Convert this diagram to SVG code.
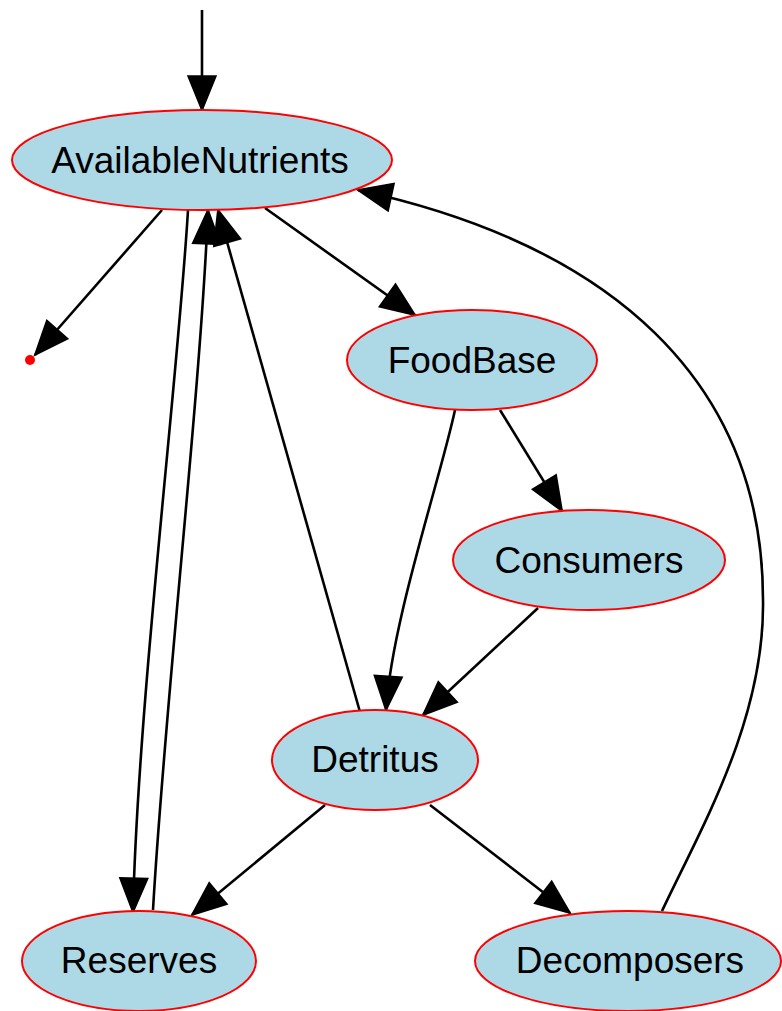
<svg xmlns="http://www.w3.org/2000/svg" width="782" height="1011" viewBox="0 0 782 1011">
<style>
.node ellipse{fill:#add8e6;stroke:#ff0000;stroke-width:2}
.node text{font-family:"Liberation Sans",Arial,sans-serif;font-size:37px;fill:#000;text-anchor:middle}
.edges path{fill:none;stroke:#000;stroke-width:2.6}
</style>
<defs>
<marker id="arr" markerUnits="userSpaceOnUse" markerWidth="40" markerHeight="40" viewBox="-2 -2 32 26" refX="27" refY="11" orient="auto">
<path d="M0,0 L27,11 L0,22 Z" fill="#000" stroke="#000" stroke-width="1.5"/>
</marker>
</defs>
<g id="edges" class="edges">
<path marker-end="url(#arr)" d="M202,10 L202,110"/>
<path marker-end="url(#arr)" d="M162,210 L35,355"/>
<path marker-end="url(#arr)" d="M265,208 L415,315"/>
<path marker-end="url(#arr)" d="M188,210 C178,380 138,700 133,912"/>
<path marker-end="url(#arr)" d="M153,910 C165,700 200,400 208,210"/>
<path marker-end="url(#arr)" d="M360,712 L218,210"/>
<path marker-end="url(#arr)" d="M455,410 C440,480 392,620 386,710"/>
<path marker-end="url(#arr)" d="M500,410 L562,511"/>
<path marker-end="url(#arr)" d="M538,608 L423,715"/>
<path marker-end="url(#arr)" d="M325,805 L192,915"/>
<path marker-end="url(#arr)" d="M430,805 L570,913"/>
<path marker-end="url(#arr)" d="M662,911 C700,830 765,720 763,600 C763,380 610,245 358,190"/>
</g>
<circle id="point" cx="30" cy="360" r="5" fill="#ff0000"/>
<g id="AvailableNutrients" class="node"><ellipse cx="202" cy="160" rx="190" ry="50"/><text x="200" y="173">AvailableNutrients</text></g>
<g id="FoodBase" class="node"><ellipse cx="472" cy="360" rx="125" ry="50"/><text x="472" y="373">FoodBase</text></g>
<g id="Consumers" class="node"><ellipse cx="589" cy="560" rx="136" ry="50"/><text x="589" y="573">Consumers</text></g>
<g id="Detritus" class="node"><ellipse cx="375" cy="760" rx="103" ry="50"/><text x="375" y="772">Detritus</text></g>
<g id="Reserves" class="node"><ellipse cx="139" cy="961" rx="117" ry="50"/><text x="139" y="973">Reserves</text></g>
<g id="Decomposers" class="node"><ellipse cx="628" cy="961" rx="153" ry="50"/><text x="630" y="973">Decomposers</text></g>
</svg>
